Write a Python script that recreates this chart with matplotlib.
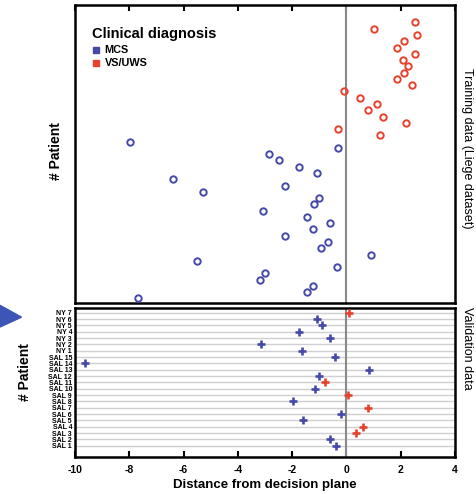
import matplotlib.pyplot as plt
from matplotlib.patches import Polygon
import numpy as np

plt.rcParams["font.family"] = ["Liberation Sans", "DejaVu Sans"]

# Training data (Liege dataset), listed top row to bottom row
train_dist = [2.54, 1.01, 2.59, 2.12, 1.85, 2.51, 2.09, 2.26, 2.11, 1.87,
              2.43, -0.09, 0.50, 1.12, 0.79, 1.34, 2.21, -0.30, 1.22,
              -7.96, -0.30, -2.85, -2.48, -1.74, -1.09, -6.38, -2.26, -5.30,
              -1.00, -1.18, -3.07, -1.45, -0.60, -1.22, -2.28, -0.67, -0.93,
              0.89, -5.50, -0.33, -2.99, -3.20, -1.23, -1.45, -7.67]
train_diag = ["VS"] * 19 + ["MCS"] * 26

# Validation data, listed bottom row to top row
val_labels = ["SAL 1", "SAL 2", "SAL 3", "SAL 4", "SAL 5", "SAL 6", "SAL 7",
              "SAL 8", "SAL 9", "SAL 10", "SAL 11", "SAL 12", "SAL 13",
              "SAL 14", "SAL 15", "NY 1", "NY 2", "NY 3", "NY 4", "NY 5",
              "NY 6", "NY 7"]
val_dist = [-0.39, -0.61, 0.37, 0.60, -1.59, -0.21, 0.79, -1.95, 0.07, -1.15,
            -0.78, -1.00, 0.83, -9.61, -0.41, -1.65, -3.15, -0.59, -1.73,
            -0.89, -1.09, 0.10]
val_diag = ["MCS", "MCS", "VS", "VS", "MCS", "MCS", "VS", "MCS", "VS", "MCS",
            "VS", "MCS", "MCS", "MCS", "MCS", "MCS", "MCS", "MCS", "MCS",
            "MCS", "MCS", "VS"]

xticks = [-10, -8, -6, -4, -2, 0, 2, 4]

blue = "#4549a8"
red = "#e8412c"
colors = {"MCS": blue, "VS": red}

fig = plt.figure(figsize=(4.77, 4.94), dpi=100)
ax1 = fig.add_axes([0.157, 0.387, 0.797, 0.603])
ax2 = fig.add_axes([0.157, 0.075, 0.797, 0.302])

# top panel: training data
n = len(train_dist)
ypos = np.arange(n, 0, -1)
for d in ["MCS", "VS"]:
    idx = [i for i, g in enumerate(train_diag) if g == d]
    ax1.plot(np.array(train_dist)[idx], ypos[idx], "o", ms=4.6, mfc="none",
             mec=colors[d], mew=1.4, zorder=3)
ax1.axvline(0, color="#8a8a8a", lw=1.5, zorder=2)
ax1.set_xlim(-10, 4)
ax1.set_ylim(0.3, 47.8)
ax1.set_xticks(xticks)
ax1.set_yticks([])
ax1.tick_params(axis="x", direction="in", top=True, bottom=False,
                labelbottom=False, length=4, width=1.5)
ax1.set_ylabel("# Patient", fontsize=10, fontweight="bold")
ax1.yaxis.set_label_coords(-0.032, 0.51)

# legend
ax1.text(0.045, 0.903, "Clinical diagnosis", transform=ax1.transAxes,
         fontsize=10.5, fontweight="bold", va="center")
for k, (lab, c) in enumerate([("MCS", blue), ("VS/UWS", red)]):
    yy = 0.849 - k * 0.044
    ax1.plot([0.056], [yy], "s", ms=3.8, color=c, transform=ax1.transAxes)
    ax1.text(0.078, yy, lab, transform=ax1.transAxes, fontsize=7.8,
             fontweight="bold", va="center")

# bottom panel: validation data
vy = np.arange(1, len(val_labels) + 1)
for d in ["MCS", "VS"]:
    idx = [i for i, g in enumerate(val_diag) if g == d]
    ax2.plot(np.array(val_dist)[idx], vy[idx], "+", ms=6, mew=1.9,
             color=colors[d], zorder=3)
ax2.axvline(0, color="#8a8a8a", lw=1.5, zorder=2)
ax2.set_xlim(-10, 4)
ax2.set_ylim(-0.76, 22.8)
ax2.set_yticks(vy)
ax2.set_yticklabels(val_labels, fontsize=5, fontweight="bold")
ax2.yaxis.grid(True, color="#cfcfcf", lw=1)
ax2.set_axisbelow(True)
ax2.tick_params(axis="y", length=0, pad=2)
ax2.set_xticks(xticks)
ax2.set_xticklabels([str(t) for t in xticks], fontsize=7.5, fontweight="bold")
ax2.tick_params(axis="x", direction="in", length=4, width=1.5, pad=6)
ax2.set_xlabel("Distance from decision plane", fontsize=9.5,
               fontweight="bold", labelpad=3)
ax2.set_ylabel("# Patient", fontsize=10, fontweight="bold")
ax2.yaxis.set_label_coords(-0.112, 0.57)

for ax in (ax1, ax2):
    for s in ax.spines.values():
        s.set_linewidth(1.8)

fig.text(0.978, 0.70, "Training data (Liege dataset)", rotation=-90,
         fontsize=9, va="center", ha="center")
fig.text(0.978, 0.295, "Validation data", rotation=-90,
         fontsize=9, va="center", ha="center")

# blue arrow on the left edge
fig.patches.append(Polygon([[0.0, 0.382], [0.0, 0.338], [0.045, 0.358]],
                           closed=True, transform=fig.transFigure,
                           color="#3d55b5", zorder=5))

fig.savefig("out.png", dpi=100)
